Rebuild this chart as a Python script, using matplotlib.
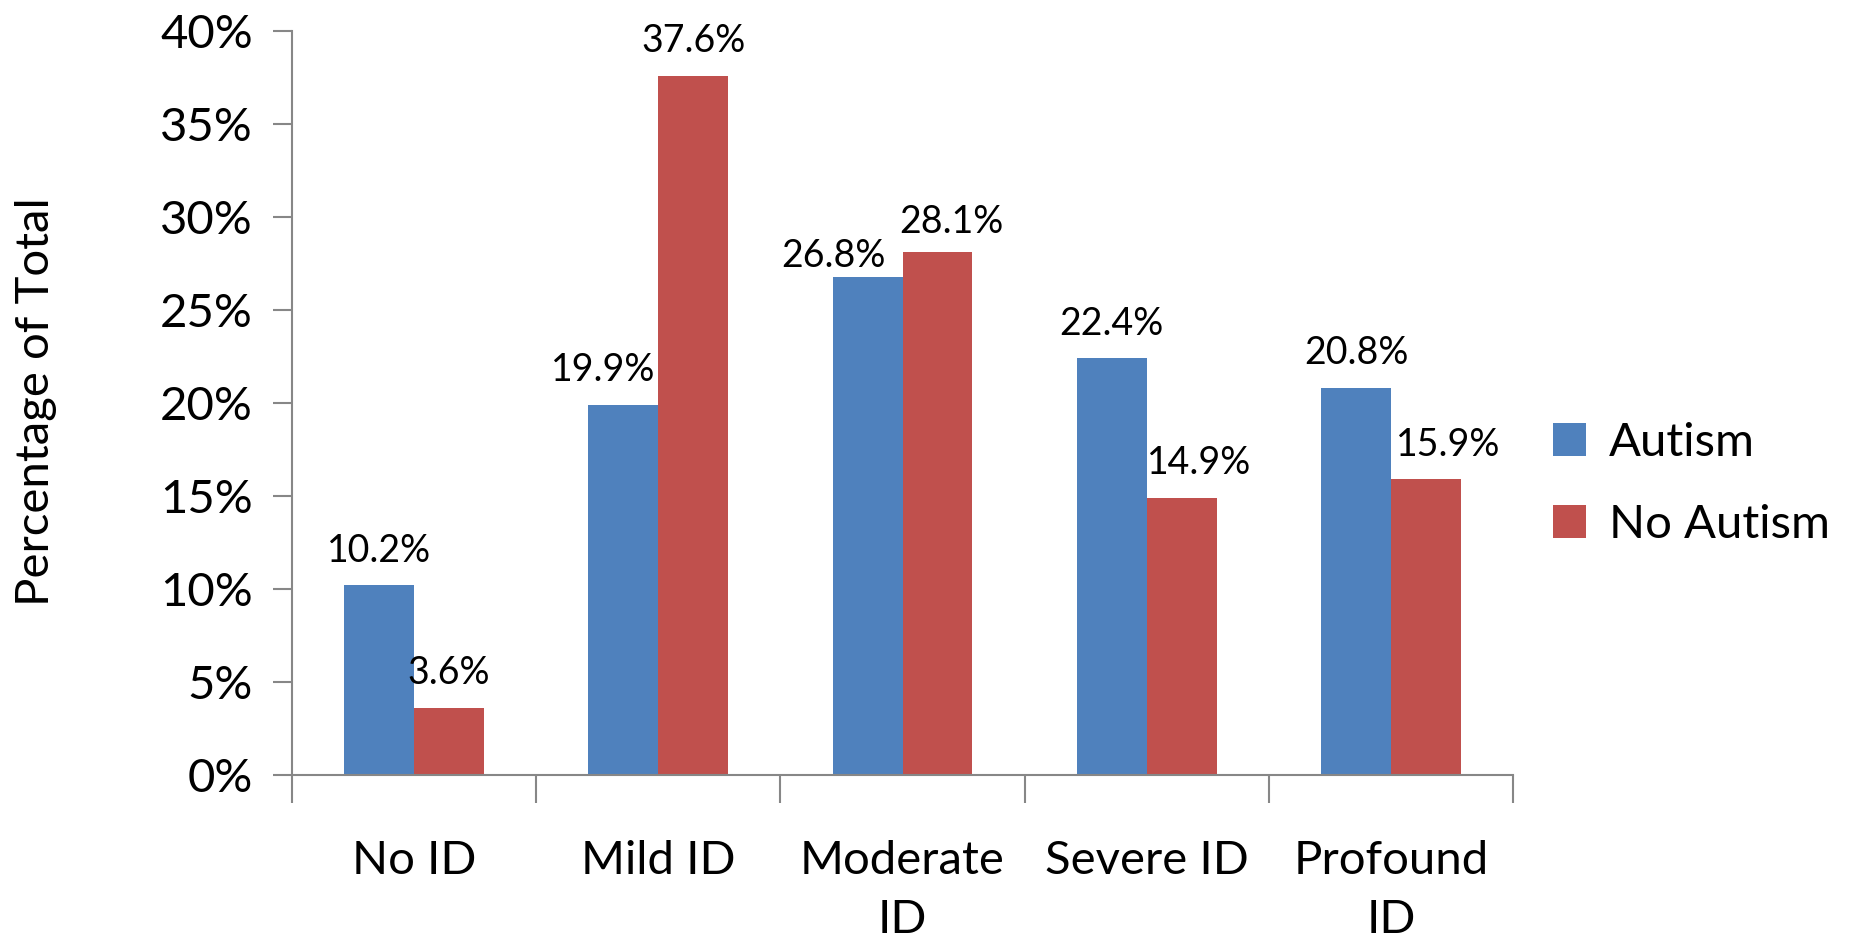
import matplotlib
matplotlib.use("Agg")
import matplotlib.pyplot as plt
from matplotlib.ticker import FuncFormatter, MultipleLocator
import numpy as np

categories = ["No ID", "Mild ID", "Moderate\nID", "Severe ID", "Profound\nID"]
autism = [10.2, 19.9, 26.8, 22.4, 20.8]
no_autism = [3.6, 37.6, 28.1, 14.9, 15.9]
series_names = ["Autism", "No Autism"]

# label offsets (pixels) for data labels, to mimic placement
off_autism = [(0, 0), (-20, 0), (-34, -14), (0, 0), (0, 0)]
off_noaut = [(0, 0), (0, 0), (14, -4), (17, 0), (22, 0)]

plt.rcParams['font.family'] = ['Lato', 'DejaVu Sans']
blue = "#4F81BD"
red = "#C0504D"
grey = "#878787"

fig = plt.figure(figsize=(18.53, 9.43), dpi=100)
ax = fig.add_axes([292/1853, 1-775/943, (1513-292)/1853, (775-31)/943])

x = np.arange(len(categories))
w = 0.286
b1 = ax.bar(x - w/2, autism, w, color=blue, label=series_names[0])
b2 = ax.bar(x + w/2, no_autism, w, color=red, label=series_names[1])

def lab(bars, vals, offs):
    for rect, v, (dx, dy) in zip(bars, vals, offs):
        ax.annotate(f"{v:.1f}%", (rect.get_x() + rect.get_width()/2, rect.get_height()),
                    xytext=(dx*0.72, 12 + dy*0.72), textcoords="offset points",
                    ha="center", va="bottom", fontsize=27, color="black")

lab(b1, autism, off_autism)
lab(b2, no_autism, off_noaut)

ax.set_xlim(-0.5, 4.5)
ax.set_ylim(0, 40)
ax.yaxis.set_major_locator(MultipleLocator(5))
ax.yaxis.set_major_formatter(FuncFormatter(lambda v, p: f"{v:.0f}%"))
ax.set_xticks(x)
ax.set_xticklabels(categories, fontsize=34, linespacing=1.5)
ax.set_xticks(np.arange(-0.5, 5, 1), minor=True)
ax.tick_params(axis="x", which="major", length=0, pad=47)
ax.tick_params(axis="x", which="minor", length=20, width=1.5, color=grey, direction="out")
ax.tick_params(axis="y", length=14, width=1.5, color=grey, direction="out", labelsize=34, pad=14)

for s in ["top", "right"]:
    ax.spines[s].set_visible(False)
for s in ["left", "bottom"]:
    ax.spines[s].set_color(grey)
    ax.spines[s].set_linewidth(1.5)

fig.text(36/1853, 1-402/943, "Percentage of Total", rotation=90, fontsize=34,
         ha="center", va="center")

fig.legend(handles=[b1, b2], labels=series_names, loc="center left",
           bbox_to_anchor=(1510/1853, 1-484/943), frameon=False, fontsize=34,
           handlelength=0.7, handleheight=0.7, handletextpad=0.5, labelspacing=0.85)

fig.savefig("out.png", dpi=100)
